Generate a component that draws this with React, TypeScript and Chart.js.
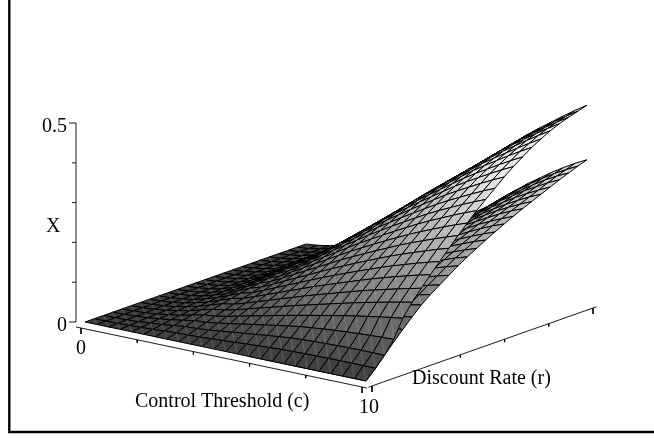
import React, { useEffect, useRef } from "react";
import { Chart, registerables } from "chart.js";

Chart.register(...registerables);

// Axis values: 25 grid stations on each horizontal axis.
const cValues = [0, 0.417, 0.833, 1.25, 1.667, 2.083, 2.5, 2.917, 3.333, 3.75, 4.167, 4.583, 5, 5.417, 5.833, 6.25, 6.667, 7.083, 7.5, 7.917, 8.333, 8.75, 9.167, 9.583, 10];
const rValues = [0, 0.208, 0.417, 0.625, 0.833, 1.042, 1.25, 1.458, 1.667, 1.875, 2.083, 2.292, 2.5, 2.708, 2.917, 3.125, 3.333, 3.542, 3.75, 3.958, 4.167, 4.375, 4.583, 4.792, 5];
const cTicks = [0, 2, 4, 6, 8, 10];
const rTicks = [0, 2, 3, 4, 5];
const xTicks = [0, 0.1, 0.2, 0.3, 0.4, 0.5];

// Upper sheet: X; one row per c station, one column per r station.
const upperX = [
  [0, 0, 0, 0, 0, 0, 0, 0, 0, 0, 0, 0, 0, 0, 0, 0, 0, 0, 0, 0, 0, 0, 0, 0, 0],
  [0, .0003, .0006, .0009, .0011, .0013, .0015, .0017, .0018, .002, .0021, .0022, .0023, .0024, .0025, .0026, .0026, .0027, .0028, .0028, .0029, .0029, .0029, .003, .003],
  [0, .0008, .0016, .0023, .0029, .0035, .004, .0044, .0048, .0052, .0056, .0059, .0062, .0064, .0066, .0068, .007, .0072, .0073, .0075, .0076, .0077, .0078, .0079, .008],
  [0, .0017, .0032, .0046, .0058, .0069, .0079, .0089, .0097, .0104, .0111, .0117, .0123, .0128, .0133, .0137, .014, .0144, .0147, .015, .0152, .0154, .0156, .0158, .016],
  [0, .003, .0058, .0083, .0105, .0126, .0144, .0161, .0176, .0189, .0202, .0213, .0223, .0232, .024, .0248, .0255, .0261, .0266, .0271, .0276, .028, .0284, .0287, .029],
  [0, .0042, .0081, .0117, .015, .0182, .0211, .0238, .0264, .0287, .031, .0331, .0352, .0373, .0393, .041, .0425, .0438, .0449, .0459, .0468, .0477, .0485, .0493, .05],
  [0, .0061, .0118, .017, .0219, .0265, .0308, .0347, .0385, .0419, .0452, .0483, .0513, .0544, .0573, .0599, .0621, .0639, .0655, .0669, .0683, .0696, .0707, .0719, .073],
  [0, .0079, .0153, .0221, .0285, .0345, .0401, .0452, .0501, .0545, .0588, .0629, .0668, .0708, .0746, .0779, .0808, .0831, .0852, .0871, .0889, .0905, .0921, .0936, .095],
  [0, .0085, .0165, .024, .0313, .0384, .0452, .0516, .0577, .0636, .0693, .0749, .0804, .0856, .0904, .0949, .0989, .1024, .1055, .1082, .1106, .1126, .1145, .1162, .118],
  [0, .0096, .019, .0281, .037, .0456, .054, .0621, .0698, .0773, .0845, .0914, .0981, .1044, .1103, .1158, .1207, .125, .1287, .132, .1349, .1374, .1397, .1418, .144],
  [0, .0114, .0224, .0332, .0437, .0539, .0638, .0733, .0825, .0913, .0998, .108, .1158, .1233, .1302, .1367, .1425, .1476, .152, .1559, .1593, .1622, .1649, .1675, .17],
  [0, .0131, .0259, .0382, .0504, .0621, .0735, .0845, .0951, .1053, .1151, .1245, .1335, .1421, .1501, .1576, .1642, .1701, .1752, .1797, .1837, .187, .1901, .1931, .196],
  [0, .0149, .0293, .0433, .0571, .0704, .0833, .0957, .1077, .1192, .1303, .141, .1512, .161, .1701, .1785, .186, .1927, .1985, .2036, .208, .2118, .2153, .2187, .222],
  [0, .0166, .0327, .0484, .0637, .0786, .093, .1069, .1203, .1332, .1456, .1575, .1689, .1798, .19, .1994, .2078, .2153, .2217, .2274, .2324, .2366, .2406, .2443, .248],
  [0, .0184, .0362, .0534, .0704, .0869, .1028, .1181, .1329, .1471, .1608, .174, .1866, .1987, .2099, .2203, .2296, .2378, .245, .2513, .2567, .2614, .2658, .2699, .274],
  [0, .02, .0393, .0581, .0766, .0945, .1118, .1284, .1445, .16, .1749, .1892, .2029, .2161, .2283, .2396, .2497, .2587, .2664, .2733, .2792, .2843, .2891, .2935, .298],
  [0, .0216, .0425, .0628, .0828, .1021, .1208, .1388, .1562, .1729, .189, .2045, .2193, .2335, .2467, .2589, .2698, .2795, .2879, .2953, .3017, .3072, .3123, .3172, .322],
  [0, .0224, .0441, .066, .0887, .1096, .1295, .1488, .1673, .1852, .2024, .219, .2349, .25, .2641, .2774, .2892, .2997, .3089, .317, .3242, .3302, .3357, .3408, .346],
  [0, .023, .0456, .069, .0946, .1172, .1383, .1587, .1783, .1974, .2157, .2334, .2504, .2663, .2814, .2957, .3085, .3198, .33, .3387, .3466, .3532, .3591, .3646, .37],
  [0, .0236, .0468, .0718, .1005, .1247, .147, .1686, .1893, .2095, .2289, .2477, .2658, .2825, .2986, .314, .3276, .3398, .3509, .3604, .369, .3762, .3825, .3882, .394],
  [0, .0239, .0476, .074, .1059, .1317, .155, .1776, .1993, .2205, .2409, .2606, .2798, .2972, .3141, .3305, .3451, .358, .37, .3802, .3896, .3973, .4039, .41, .416],
  [0, .0241, .0481, .0759, .111, .1383, .1625, .1862, .2087, .2309, .2521, .2729, .293, .3111, .3288, .3461, .3616, .3752, .3882, .3991, .4092, .4175, .4245, .4307, .437],
  [0, .0242, .0485, .0776, .116, .1449, .1701, .1947, .218, .2411, .2634, .285, .3061, .3249, .3433, .3617, .378, .3924, .4064, .4179, .4288, .4376, .4449, .4515, .458],
  [0, .0241, .0485, .079, .1207, .1511, .1771, .2027, .2268, .2509, .2739, .2964, .3184, .3378, .357, .3764, .3934, .4086, .4236, .4358, .4475, .4569, .4645, .4713, .478],
  [0, .024, .048, .08, .125, .157, .184, .21, .235, .26, .284, .307, .33, .35, .37, .39, .408, .424, .44, .453, .465, .475, .483, .49, .497],
];

// Lower sheet: only its visible part, c stations 14 to 24.
const lowerFirstStation = 14;
const lowerX = [
  [0, .01, .021, .032, .043, .053, .063, .071, .078, .085, .092, .099, .104, .11, .116, .121, .126, .131, .135, .14, .144, .148, .152, .156, .16],
  [0, .011, .024, .037, .048, .06, .071, .08, .088, .096, .104, .111, .118, .124, .13, .136, .141, .147, .152, .157, .162, .167, .172, .176, .18],
  [0, .012, .027, .041, .054, .067, .079, .089, .098, .107, .116, .123, .131, .138, .144, .151, .157, .163, .169, .174, .18, .186, .191, .196, .2],
  [0, .014, .03, .046, .061, .075, .089, .1, .11, .12, .13, .139, .147, .155, .162, .17, .177, .184, .19, .196, .203, .209, .214, .22, .225],
  [0, .015, .033, .05, .067, .083, .098, .11, .121, .132, .143, .153, .162, .171, .179, .187, .195, .203, .209, .216, .223, .23, .236, .243, .248],
  [0, .016, .036, .055, .073, .09, .106, .12, .132, .144, .156, .167, .176, .186, .195, .204, .212, .221, .228, .235, .243, .251, .257, .264, .27],
  [0, .018, .039, .059, .078, .097, .114, .129, .142, .155, .168, .179, .189, .2, .209, .219, .228, .237, .245, .253, .261, .269, .276, .284, .29],
  [0, .019, .041, .063, .083, .103, .122, .138, .152, .165, .179, .191, .202, .214, .224, .234, .244, .253, .262, .27, .279, .288, .295, .303, .31],
  [0, .02, .044, .067, .088, .109, .129, .146, .16, .175, .19, .202, .214, .226, .237, .248, .258, .268, .277, .286, .295, .304, .313, .321, .328],
  [0, .021, .046, .07, .093, .115, .136, .153, .169, .184, .199, .213, .225, .238, .249, .261, .271, .282, .291, .301, .31, .32, .329, .337, .345],
  [0, .022, .048, .073, .097, .12, .142, .16, .176, .192, .208, .222, .235, .248, .26, .272, .283, .294, .304, .314, .324, .334, .343, .352, .36],
];

type Pt = { x: number; y: number };

// Orthographic view of the 3-D box onto the flat chart plane.
const project = (c: number, r: number, v: number, dx = 0, dy = 0): Pt => ({
  x: 85 + 28.1 * c + 44.2 * r + dx,
  y: 322 + 5.9 * c - 15.6 * r - 398 * v + dy,
});

const shade = (v: number) => {
  const g = Math.round(Math.min(232, 60 + 450 * v));
  return `rgb(${g},${g},${g})`;
};

const lineSet = (data: Pt[], color = "#000", width = 1) => ({
  data,
  showLine: true,
  fill: false,
  borderColor: color,
  borderWidth: width,
  pointRadius: 0,
  tension: 0,
});

function sheet(table: number[][], first: number) {
  const out: any[] = [];
  for (let row = 0; row < table.length - 1; row++) {
    const i = row + first;
    for (let j = rValues.length - 2; j >= 0; j--) {
      const v = [table[row][j], table[row + 1][j], table[row + 1][j + 1], table[row][j + 1]];
      const a = project(cValues[i], rValues[j], v[0]);
      const b = project(cValues[i + 1], rValues[j], v[1]);
      const d = project(cValues[i + 1], rValues[j + 1], v[2]);
      const e = project(cValues[i], rValues[j + 1], v[3]);
      const mean = (v[0] + v[1] + v[2] + v[3]) / 4;
      out.push({
        ...lineSet([a, b, d, e, a], "#000", 1),
        fill: "shape",
        backgroundColor: shade(mean),
      });
      out.push(lineSet([b, e], "rgba(225,225,225,0.35)", 0.5));
    }
  }
  return out;
}

function axes() {
  const out: any[] = [];
  // frame
  out.push(lineSet([{ x: 9.3, y: 0 }, { x: 9.3, y: 432 }, { x: 654, y: 432 }], "#000", 2.4));
  // X axis
  out.push(lineSet([project(0, 0, 0, -9), project(0, 0, 0.5, -9)], "#000", 0.9));
  xTicks.forEach((t) => {
    const len = t === 0 || t === 0.5 ? 7 : 4;
    out.push(lineSet([project(0, 0, t, -9), project(0, 0, t, -9 - len)], "#000", 0.9));
  });
  // c axis
  out.push(lineSet([project(-0.18, 0, 0, -4, 6), project(10.18, 0, 0, -4, 6)], "#000", 0.9));
  cTicks.forEach((t) => {
    const len = t === 0 || t === 10 ? 6 : 3;
    const p = project(t, 0, 0, -4, 6);
    out.push(lineSet([p, { x: p.x, y: p.y + len }], "#000", 0.9));
  });
  // r axis
  out.push(lineSet([project(10, -0.08, 0, 6, 5), project(10, 5.08, 0, 6, 5)], "#000", 0.9));
  rTicks.forEach((t) => {
    const len = t === 0 || t === 5 ? 6 : 3;
    const p = project(10, t, 0, 6, 5);
    out.push(lineSet([p, { x: p.x, y: p.y + len }], "#000", 0.9));
  });
  return out;
}

const labelText = ["0.5", "X", "0", "0", "10", "Control Threshold (c)", "Discount Rate (r)"];
const labelX = [42, 46, 57, 76, 359, 135, 412];
const labelY = [132, 232, 331, 354, 413, 407, 384];

const textPlugin = {
  id: "labels3d",
  afterDraw(chart: any) {
    const { ctx, scales } = chart;
    ctx.save();
    ctx.fillStyle = "#000";
    ctx.font = '20px "Liberation Serif"';
    ctx.textAlign = "left";
    ctx.textBaseline = "alphabetic";
    labelText.forEach((t, k) => {
      ctx.fillText(t, scales.x.getPixelForValue(labelX[k]), scales.y.getPixelForValue(labelY[k]));
    });
    ctx.restore();
  },
};

export default function App() {
  const ref = useRef<HTMLCanvasElement>(null);
  useEffect(() => {
    // painter's order: far cells first; Chart.js paints the last dataset first
    const ordered = [...axes(), ...sheet(lowerX, lowerFirstStation), ...sheet(upperX, 0)];
    const chart = new Chart(ref.current as HTMLCanvasElement, {
      type: "scatter",
      data: { datasets: ordered.reverse() },
      options: {
        animation: false,
        responsive: false,
        events: [],
        layout: { padding: 0 },
        plugins: { legend: { display: false }, tooltip: { enabled: false }, title: { display: false } },
        scales: {
          x: { type: "linear", min: 0, max: 654, display: false },
          y: { type: "linear", min: 0, max: 438, reverse: true, display: false },
        },
      },
      plugins: [textPlugin],
    } as any);
    return () => chart.destroy();
  }, []);
  return (
    <div style={{ position: "fixed", left: 0, top: 0, width: 654, height: 438, background: "#fff" }}>
      <canvas ref={ref} width={654} height={438} style={{ display: "block", width: 654, height: 438 }} />
    </div>
  );
}
